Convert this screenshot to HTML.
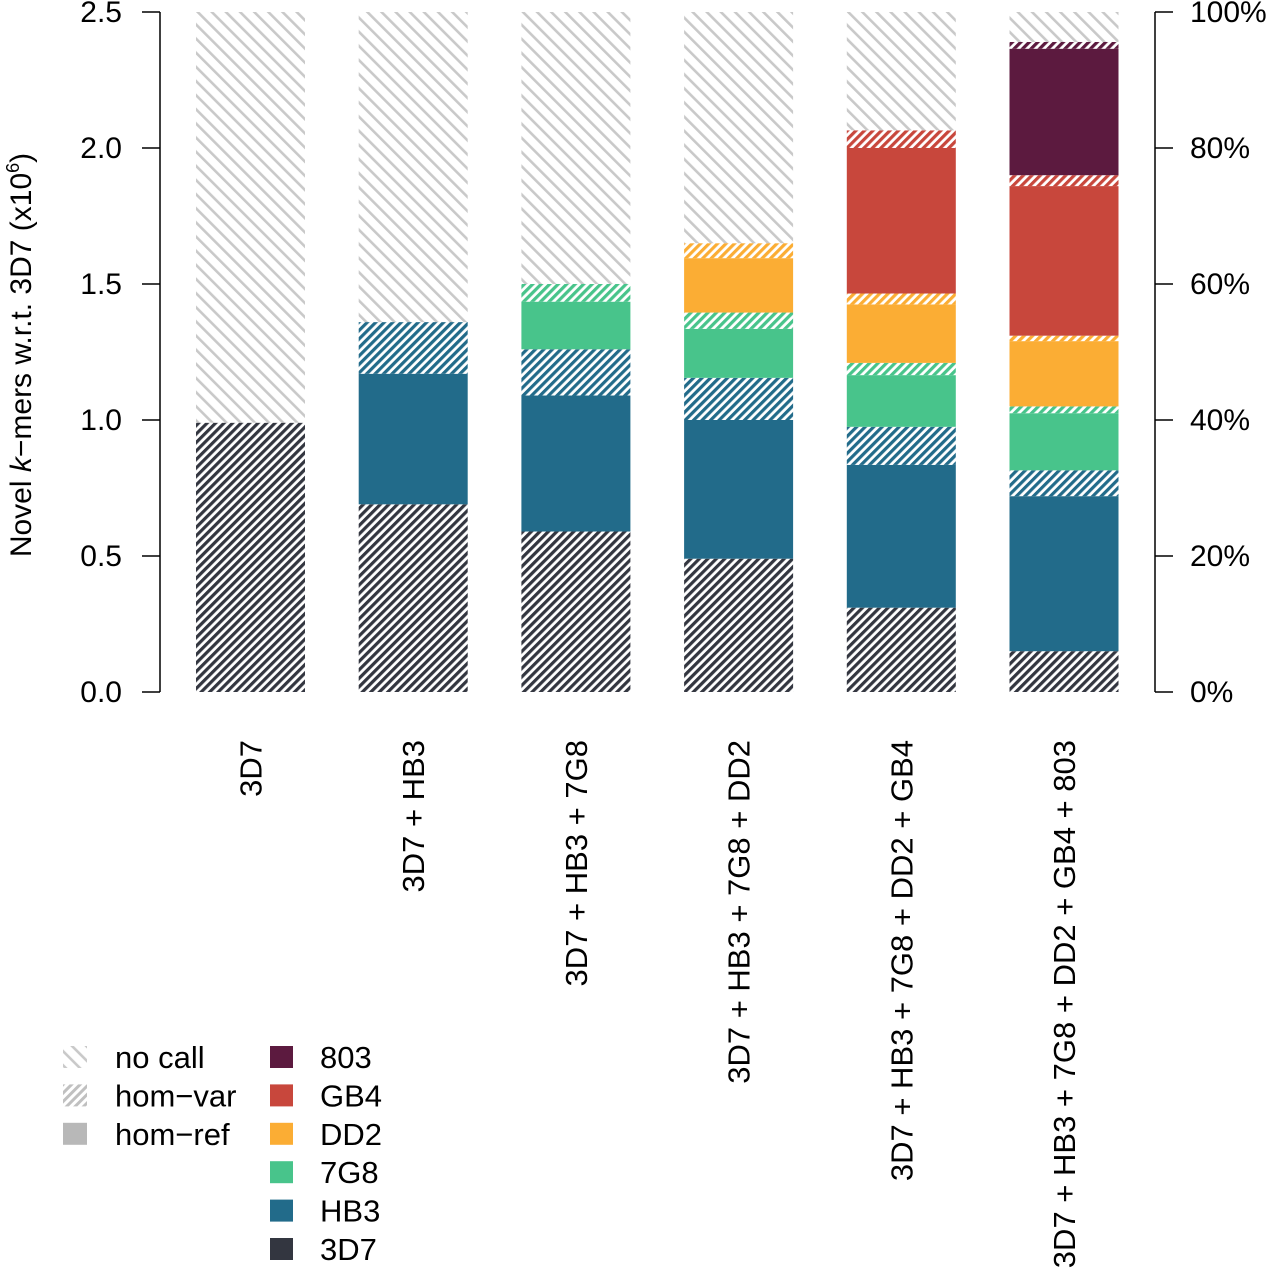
<!DOCTYPE html>
<html><head><meta charset="utf-8"><style>
html,body{margin:0;padding:0;background:#fff;}
svg{display:block;font-family:"Liberation Sans",sans-serif;}
</style></head><body>
<svg id="chart" width="1273" height="1280" viewBox="0 0 1273 1280">
<defs id="defs"></defs>
<g id="bars"></g>
<g id="axes"></g>
<text transform="translate(31,355) rotate(-90)" text-anchor="middle" font-size="30" fill="#000">Novel <tspan font-style="italic">k</tspan>−mers w.r.t. 3D7 (x10<tspan font-size="18" dy="-12">6</tspan><tspan dy="12">)</tspan></text>
<g id="legend"></g>
</svg>
<script>
const categories = ["3D7","3D7 + HB3","3D7 + HB3 + 7G8","3D7 + HB3 + 7G8 + DD2","3D7 + HB3 + 7G8 + DD2 + GB4","3D7 + HB3 + 7G8 + DD2 + GB4 + 803"];
const strains = ["3D7","HB3","7G8","DD2","GB4","803"];
const strainColors = ["#333640","#226b8a","#48c48b","#fbad34","#c8473c","#5c1a3f"];
// hom-ref (solid) per strain per bar
const homRef3D7 = [0,0,0,0,0,0];
const homRefHB3 = [0,0.48,0.50,0.51,0.525,0.57];
const homRef7G8 = [0,0,0.175,0.18,0.19,0.21];
const homRefDD2 = [0,0,0,0.20,0.215,0.24];
const homRefGB4 = [0,0,0,0,0.535,0.55];
const homRef803 = [0,0,0,0,0,0.465];
// hom-var (hatched)
const homVar3D7 = [0.99,0.69,0.59,0.49,0.31,0.15];
const homVarHB3 = [0,0.19,0.17,0.155,0.14,0.095];
const homVar7G8 = [0,0,0.065,0.06,0.045,0.025];
const homVarDD2 = [0,0,0,0.055,0.04,0.02];
const homVarGB4 = [0,0,0,0,0.065,0.04];
const homVar803 = [0,0,0,0,0,0.025];
const yTicks = [0,0.5,1.0,1.5,2.0,2.5];
const yTickLabels = ["0.0","0.5","1.0","1.5","2.0","2.5"];
const pctTicks = [0,20,40,60,80,100];
const yMax = 2.5;

const NS="http://www.w3.org/2000/svg";
const plotTop=12, plotBottom=692;
const y = v => plotBottom - v/yMax*(plotBottom-plotTop);
const barX = i => 196 + i*162.7;
const barW = 109;
function mk(tag, attrs, parent){const e=document.createElementNS(NS,tag);for(const k in attrs)e.setAttribute(k,attrs[k]);parent.appendChild(e);return e;}
const defs=document.getElementById('defs');
function pattern(id,color,spacing,thick,angle,bg){
  const p=mk('pattern',{id:id,width:spacing,height:spacing,patternUnits:'userSpaceOnUse',patternTransform:'rotate('+angle+')'},defs);
  if(bg) mk('rect',{x:0,y:0,width:spacing,height:spacing,fill:bg},p);
  mk('rect',{x:0,y:0,width:thick,height:spacing,fill:color},p);
}
pattern('nocall','#c9c9c9',10,2.6,-45,'#fff');
strains.forEach((s,i)=>pattern('var'+i,strainColors[i],6,3.2,45,'#fff'));
pattern('legvar','#c0c0c0',6,3,45,'#fff');

const refArr=[homRef3D7,homRefHB3,homRef7G8,homRefDD2,homRefGB4,homRef803];
const varArr=[homVar3D7,homVarHB3,homVar7G8,homVarDD2,homVarGB4,homVar803];
const bars=document.getElementById('bars');
categories.forEach((c,b)=>{
  const g=mk('g',{},bars);
  
  
  let acc=0;
  strains.forEach((s,i)=>{
    const r=refArr[i][b], v=varArr[i][b];
    if(r>0){const e=mk('rect',{x:barX(b),y:y(acc+r),width:barW,height:y(acc)-y(acc+r),fill:strainColors[i]},g);
      
      acc+=r;}
    if(v>0){const e=mk('rect',{x:barX(b),y:y(acc+v),width:barW,height:y(acc)-y(acc+v),fill:'url(#var'+i+')'},g);
      
      acc+=v;}
  });
  const e=mk('rect',{x:barX(b),y:y(yMax),width:barW,height:y(acc)-y(yMax),fill:'url(#nocall)'},g);
  
  
  const cx=barX(b)+barW/2+11;
  const t=mk('text',{transform:'translate('+cx+',740) rotate(-90)','text-anchor':'end','font-size':31,fill:'#000'},g);
  
  
  t.textContent=c;
});
const axes=document.getElementById('axes');
mk('line',{x1:160,y1:y(0),x2:160,y2:y(yMax),stroke:'#000','stroke-width':1.5},axes);
mk('line',{x1:1155,y1:y(0),x2:1155,y2:y(yMax),stroke:'#000','stroke-width':1.5},axes);
yTicks.forEach((v,i)=>{
  mk('line',{x1:142,y1:y(v),x2:160,y2:y(v),stroke:'#000','stroke-width':1.5},axes);
  const t=mk('text',{x:122,y:y(v)+10,'text-anchor':'end','font-size':30},axes);
  
  
  t.textContent=yTickLabels[i];
});
pctTicks.forEach(p=>{
  const yy=y(p/100*yMax);
  mk('line',{x1:1155,y1:yy,x2:1173,y2:yy,stroke:'#000','stroke-width':1.5},axes);
  const t=mk('text',{x:1190,y:yy+10,'font-size':30},axes);
  
  
  t.textContent=p+'%';
});
const leg=document.getElementById('legend');
const typeNames=["no call","hom−var","hom−ref"];
const typeFills=["url(#nocall)","url(#legvar)","#b8b8b8"];
typeNames.forEach((n,i)=>{
  const yy=1057+i*38.4;
  mk('rect',{x:63,y:yy-11,width:24,height:22,fill:typeFills[i]},leg);
  const t=mk('text',{x:115,y:yy+11,'font-size':31},leg);
  
  
  t.textContent=n;
});
for(let k=0;k<6;k++){
  const i=5-k, yy=1057+k*38.4;
  mk('rect',{x:270,y:yy-11,width:23,height:22,fill:strainColors[i]},leg);
  const t=mk('text',{x:320,y:yy+11,'font-size':31},leg);
  
  
  t.textContent=strains[i];
}
</script>
</body></html>
